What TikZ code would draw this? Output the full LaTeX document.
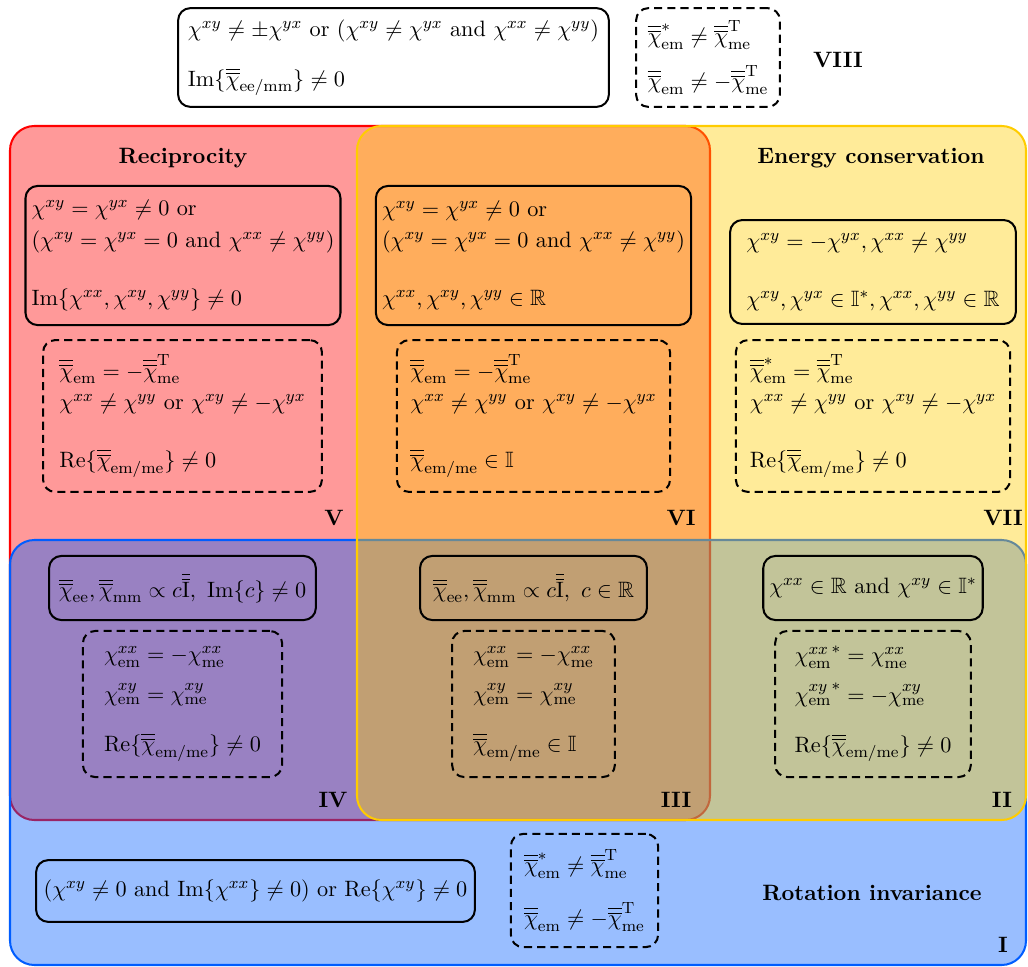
\documentclass[tikz,border=0pt,11pt]{standalone}
\usepackage{amsmath,amssymb}
\usetikzlibrary{positioning}
\definecolor{recip}{RGB}{255,0,0}
\definecolor{rotinv}{RGB}{0,93,255}
\definecolor{energy}{RGB}{255,204,0}
\newcommand{\dchi}{\overline{\overline{\chi}}}
\newcommand{\dId}{\overline{\overline{\mathrm{I}}}}
\begin{document}
\begin{tikzpicture}[scale=0.866,
    solidbox/.style={draw, line width=1pt, rounded corners=6pt, align=left, inner sep=3pt},
    dashbox/.style={solidbox, dash pattern=on 4pt off 2.5pt},
    settitle/.style={font=\bfseries},
    setnum/.style={font=\bfseries},
    setarea/.style={line width=1pt, fill opacity=0.4, rounded corners=12pt}]
    \useasboundingbox (0,0) rectangle (20.56,-19.34);
    % Sets
    \draw[setarea, recip, fill=recip] (0.2,-2.52) rectangle (14.2,-16.4);
    \draw[setarea, rotinv, fill=rotinv] (0.2,-10.8) rectangle (20.52,-19.3);
    \draw[setarea, energy, fill=energy] (7.14,-2.52) rectangle (20.52,-16.4);
    % VIII
    \node[solidbox, minimum width=7.46cm, minimum height=1.71cm] (c8) at (7.87,-1.15)
        {$\chi^{xy}\neq\pm\chi^{yx}$ or $(\chi^{xy}\neq\chi^{yx}$ and $\chi^{xx}\neq\chi^{yy})$\\[11pt]
         $\mathrm{Im}\{\dchi_{\mathrm{ee/mm}}\}\neq0$};
    \node[dashbox, minimum width=2.49cm, minimum height=1.71cm] (d8) at (14.16,-1.15)
        {$\dchi^{*}_{\mathrm{em}}\neq\dchi^{\mathrm{T}}_{\mathrm{me}}$\\[7pt]
         $\dchi_{\mathrm{em}}\neq-\dchi^{\mathrm{T}}_{\mathrm{me}}$};
    \node[setnum] (n8) at (16.76,-1.2) {VIII};
    % V
    \node[settitle] (trecip) at (3.66,-3.16) {Reciprocity};
    \node[solidbox, minimum width=5.4cm, minimum height=2.41cm] (c5) at (3.66,-5.11)
        {$\chi^{xy}=\chi^{yx}\neq0$ or\\[2pt]
         $(\chi^{xy}=\chi^{yx}=0$ and $\chi^{xx}\neq\chi^{yy})$\\[15pt]
         $\mathrm{Im}\{\chi^{xx},\chi^{xy},\chi^{yy}\}\neq0$};
    \node[dashbox, minimum width=4.83cm, minimum height=2.63cm] (d5) at (3.65,-8.32)
        {$\dchi_{\mathrm{em}}=-\dchi^{\mathrm{T}}_{\mathrm{me}}$\\[2pt]
         $\chi^{xx}\neq\chi^{yy}$ or $\chi^{xy}\neq-\chi^{yx}$\\[15pt]
         $\mathrm{Re}\{\dchi_{\mathrm{em/me}}\}\neq0$};
    \node[setnum] (n5) at (6.68,-10.36) {V};
    % VI
    \node[solidbox, minimum width=5.46cm, minimum height=2.41cm] (c6) at (10.67,-5.11)
        {$\chi^{xy}=\chi^{yx}\neq0$ or\\[2pt]
         $(\chi^{xy}=\chi^{yx}=0$ and $\chi^{xx}\neq\chi^{yy})$\\[15pt]
         $\chi^{xx},\chi^{xy},\chi^{yy}\in\mathbb{R}$};
    \node[dashbox, minimum width=4.73cm, minimum height=2.63cm] (d6) at (10.67,-8.32)
        {$\dchi_{\mathrm{em}}=-\dchi^{\mathrm{T}}_{\mathrm{me}}$\\[2pt]
         $\chi^{xx}\neq\chi^{yy}$ or $\chi^{xy}\neq-\chi^{yx}$\\[15pt]
         $\dchi_{\mathrm{em/me}}\in\mathbb{I}$};
    \node[setnum] (n6) at (13.62,-10.36) {VI};
    % VII
    \node[settitle] (tenergy) at (17.42,-3.16) {Energy conservation};
    \node[solidbox, minimum width=4.95cm, minimum height=1.8cm] (c7) at (17.46,-5.44)
        {$\chi^{xy}=-\chi^{yx},\chi^{xx}\neq\chi^{yy}$\\[15pt]
         $\chi^{xy},\chi^{yx}\in\mathbb{I}^{*},\chi^{xx},\chi^{yy}\in\mathbb{R}$};
    \node[dashbox, minimum width=4.75cm, minimum height=2.63cm] (d7) at (17.46,-8.32)
        {$\dchi^{*}_{\mathrm{em}}=\dchi^{\mathrm{T}}_{\mathrm{me}}$\\[2pt]
         $\chi^{xx}\neq\chi^{yy}$ or $\chi^{xy}\neq-\chi^{yx}$\\[15pt]
         $\mathrm{Re}\{\dchi_{\mathrm{em/me}}\}\neq0$};
    \node[setnum] (n7) at (20.06,-10.36) {VII};
    % IV
    \node[solidbox, minimum width=4.62cm, minimum height=1.11cm] (c4) at (3.65,-11.76)
        {$\dchi_{\mathrm{ee}},\dchi_{\mathrm{mm}}\propto c\dId,\ \mathrm{Im}\{c\}\neq0$};
    \node[dashbox, minimum width=3.45cm, minimum height=2.53cm] (d4) at (3.65,-14.08)
        {$\chi^{xx}_{\mathrm{em}}=-\chi^{xx}_{\mathrm{me}}$\\[6pt]
         $\chi^{xy}_{\mathrm{em}}=\chi^{xy}_{\mathrm{me}}$\\[11pt]
         $\mathrm{Re}\{\dchi_{\mathrm{em/me}}\}\neq0$};
    \node[setnum] (n4) at (6.66,-16) {IV};
    % III
    \node[solidbox, minimum width=3.93cm, minimum height=1.11cm] (c3) at (10.67,-11.76)
        {$\dchi_{\mathrm{ee}},\dchi_{\mathrm{mm}}\propto c\dId,\ c\in\mathbb{R}$};
    \node[dashbox, minimum width=2.82cm, minimum height=2.53cm] (d3) at (10.67,-14.08)
        {$\chi^{xx}_{\mathrm{em}}=-\chi^{xx}_{\mathrm{me}}$\\[6pt]
         $\chi^{xy}_{\mathrm{em}}=\chi^{xy}_{\mathrm{me}}$\\[11pt]
         $\dchi_{\mathrm{em/me}}\in\mathbb{I}$};
    \node[setnum] (n3) at (13.52,-16) {III};
    % II
    \node[solidbox, minimum width=3.78cm, minimum height=1.11cm] (c2) at (17.46,-11.76)
        {$\chi^{xx}\in\mathbb{R}$ and $\chi^{xy}\in\mathbb{I}^{*}$};
    \node[dashbox, minimum width=3.39cm, minimum height=2.53cm] (d2) at (17.46,-14.08)
        {${\chi^{xx}_{\mathrm{em}}}^{*}=\chi^{xx}_{\mathrm{me}}$\\[6pt]
         ${\chi^{xy}_{\mathrm{em}}}^{*}=-\chi^{xy}_{\mathrm{me}}$\\[11pt]
         $\mathrm{Re}\{\dchi_{\mathrm{em/me}}\}\neq0$};
    \node[setnum] (n2) at (20.04,-16) {II};
    % I
    \node[solidbox, minimum width=7.6cm, minimum height=1.07cm] (c1) at (5.11,-17.82)
        {$(\chi^{xy}\neq0$ and $\mathrm{Im}\{\chi^{xx}\}\neq0)$ or $\mathrm{Re}\{\chi^{xy}\}\neq0$};
    \node[dashbox, minimum width=2.55cm, minimum height=1.96cm] (d1) at (11.69,-17.81)
        {$\dchi^{*}_{\mathrm{em}}\neq\dchi^{\mathrm{T}}_{\mathrm{me}}$\\[11pt]
         $\dchi_{\mathrm{em}}\neq-\dchi^{\mathrm{T}}_{\mathrm{me}}$};
    \node[settitle] (trotinv) at (17.44,-17.86) {Rotation invariance};
    \node[setnum] (n1) at (20.06,-18.9) {I};
\end{tikzpicture}
\end{document}
